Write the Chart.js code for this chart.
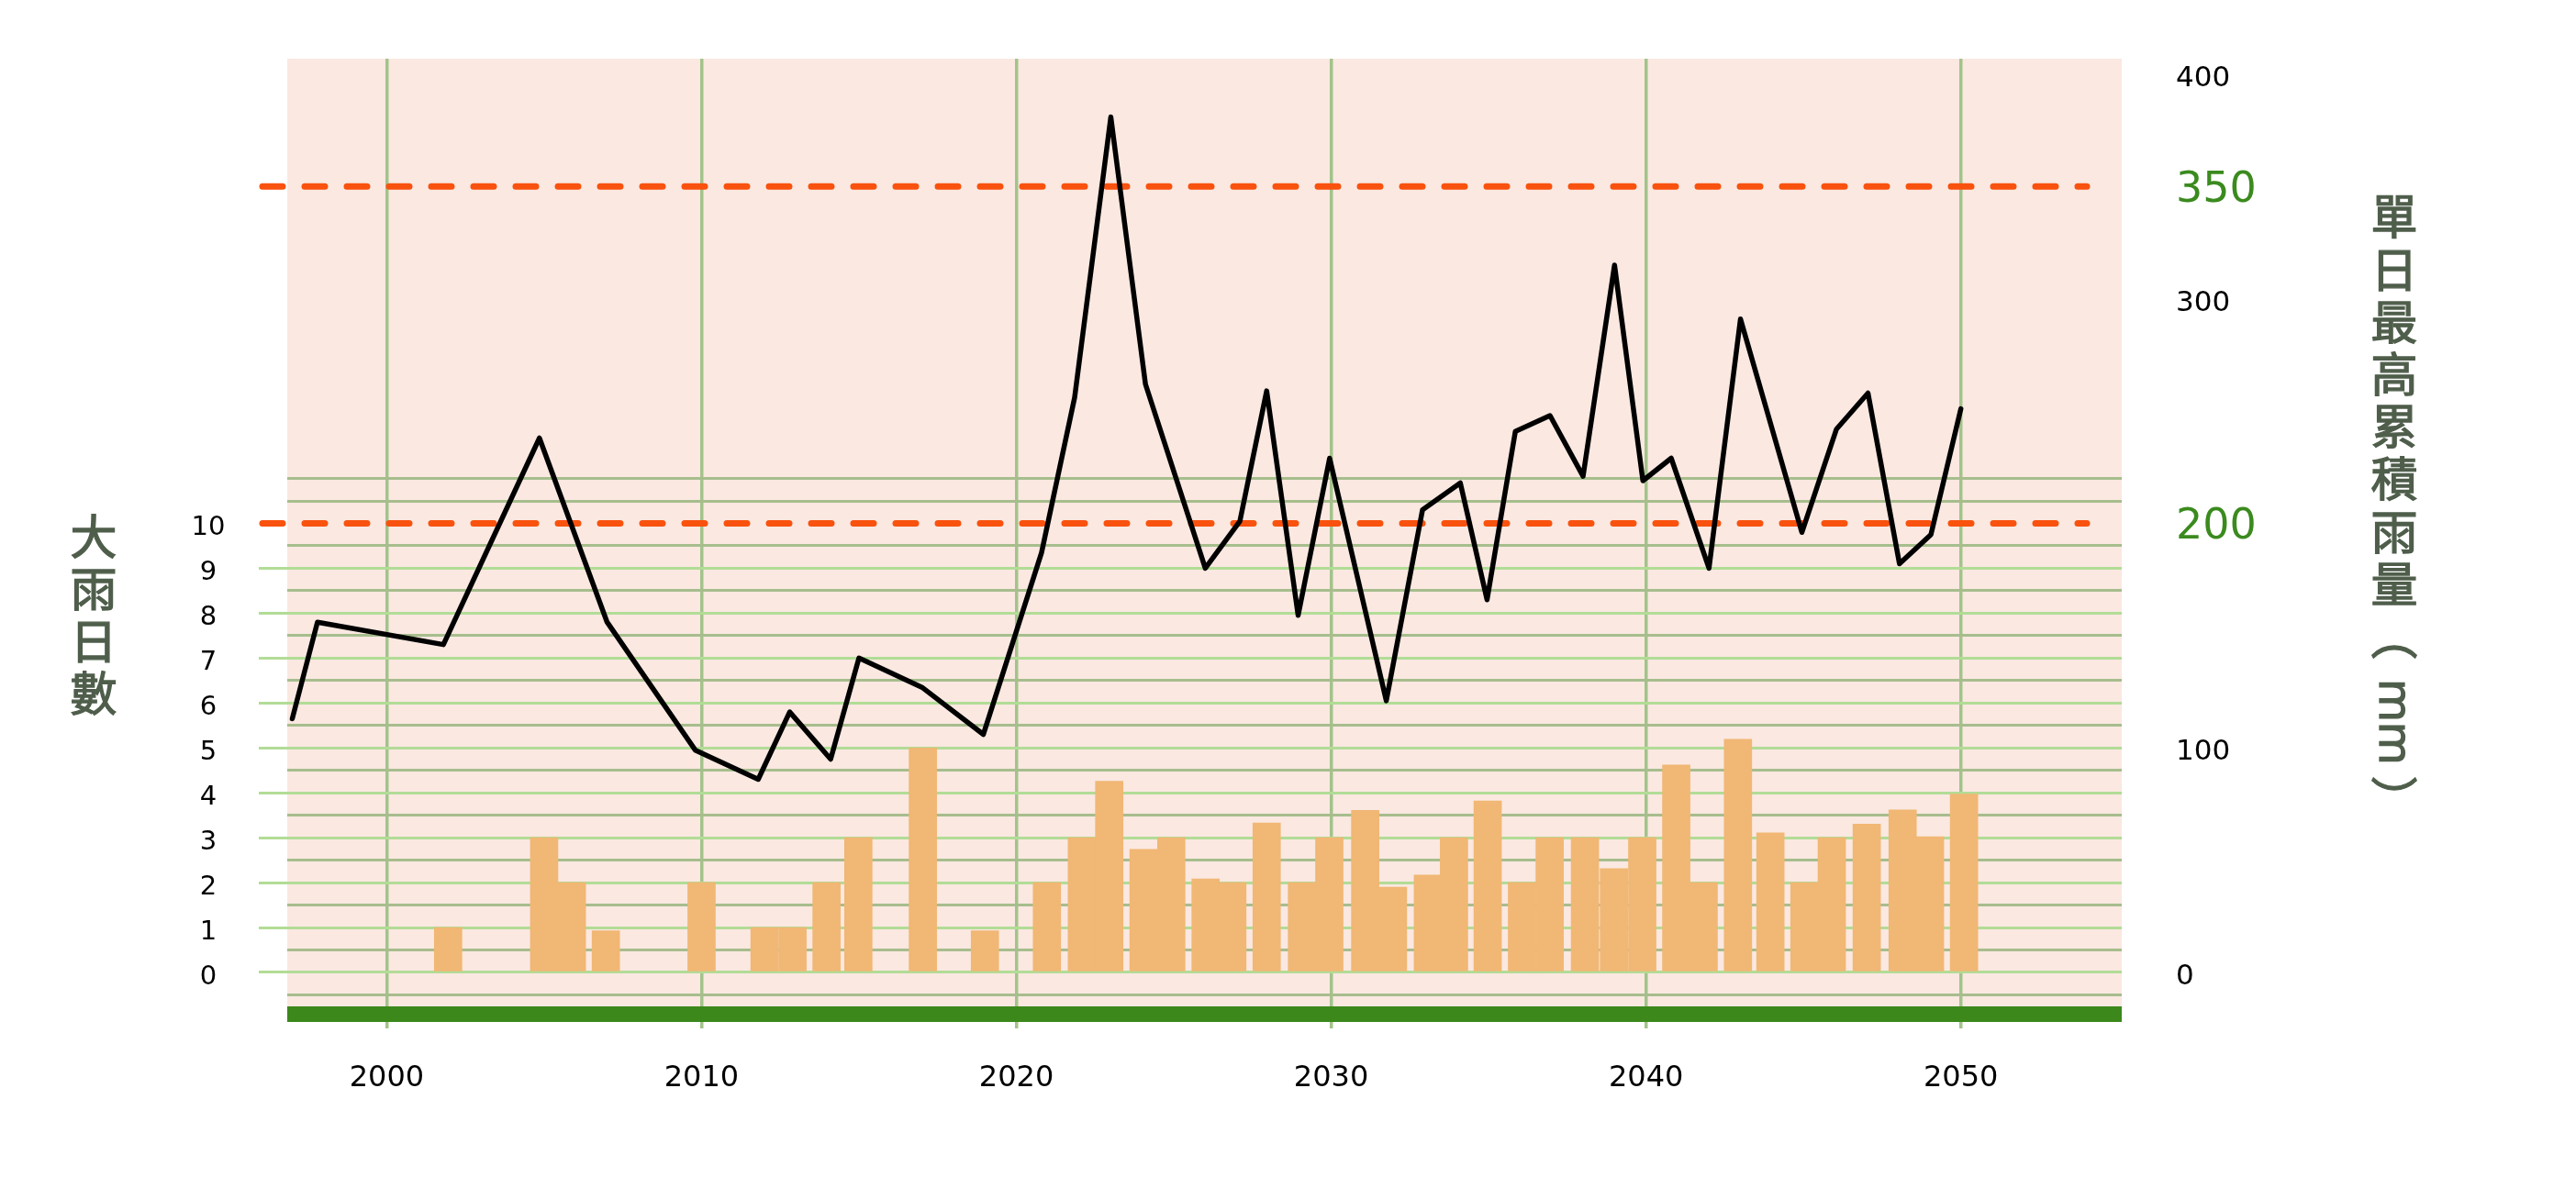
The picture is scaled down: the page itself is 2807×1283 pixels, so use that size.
<!DOCTYPE html>
<html>
<head>
<meta charset="utf-8">
<script src="https://cdn.jsdelivr.net/npm/chart.js@4.4.0/dist/chart.umd.min.js"></script>
<style>
  body { margin: 0; background: #fff; }
  #wrap { width: 2807px; height: 1283px; }
</style>
</head>
<body>
<div id="wrap"><canvas id="grafico" width="2807" height="1283"></canvas></div>
<script>
// 單日最高累積雨量 (mm), right axis
const rainYears = [1997.0, 1997.8, 2001.8, 2004.85, 2007.0, 2009.8, 2011.8, 2012.8, 2014.1, 2015.0,
  2017.0, 2018.95, 2020.8, 2021.85, 2023.0, 2024.1, 2026.0, 2027.1, 2027.95, 2028.95,
  2029.95, 2031.75, 2032.9, 2034.1, 2034.95, 2035.85, 2036.95, 2038.0, 2039.0, 2039.9,
  2040.8, 2042.0, 2043.0, 2044.95, 2046.05, 2047.05, 2048.05, 2049.05, 2050.0];
const maxRain = [113, 156, 146, 238, 156, 99, 86, 116, 95, 140,
  127, 106, 187, 256, 381, 262, 180, 201, 259, 159,
  229, 121, 206, 218, 166, 241, 248, 221, 315, 219,
  229, 180, 291, 196, 242, 258, 182, 195, 251];

// 大雨日數, left axis
const dayYears = [2001.95, 2005.0, 2005.88, 2006.96, 2010.0, 2012.0, 2012.89, 2013.97, 2014.98, 2017.03,
  2019.0, 2020.97, 2022.08, 2022.95, 2024.04, 2024.92, 2026.01, 2026.86, 2027.95, 2029.07,
  2029.94, 2031.08, 2031.96, 2033.07, 2033.9, 2034.97, 2036.06, 2036.94, 2038.06, 2038.98,
  2039.88, 2040.96, 2041.83, 2042.92, 2043.95, 2045.03, 2045.9, 2047.01, 2048.15, 2049.02, 2050.1];
const heavyDays = [1, 3, 2, 0.93, 2, 1, 1, 2, 3, 5,
  0.93, 2, 3, 4.26, 2.74, 3, 2.08, 2, 3.33, 2,
  3, 3.61, 1.9, 2.17, 3, 3.82, 2, 3, 3, 2.31,
  3, 4.62, 2, 5.19, 3.11, 2, 3, 3.3, 3.62, 3.02, 3.97];

const yearTicks = [2000, 2010, 2020, 2030, 2040, 2050];
const dayTicks = [0, 1, 2, 3, 4, 5, 6, 7, 8, 9, 10];
const rainTicks = [0, 100, 200, 300, 350, 400];
const thresholds = [200, 350];   // dashed lines, also the green labels

const leftTitle = '大雨日數';
const rightTitle = '單日最高累積雨量';
const unit = 'mm';

// left axis grid: whole days light green, half steps darker
const gridValues = [];
for (let v = -0.5; v <= 11; v += 0.5) gridValues.push(v);

function gridColor(v) {
  if (v === 10) return 'rgba(0,0,0,0)';
  if (Number.isInteger(v) && v >= 0 && v <= 9) return '#b2dc96';
  return '#a7bd8d';
}

// fixed axis sizes, no label overhang so the plot box sits where it should
function fixSize(s, w, h) {
  if (w) s.width = w;
  if (h) s.height = h;
  s.paddingTop = 0;
  s.paddingBottom = 0;
  s.paddingLeft = 0;
  s.paddingRight = 0;
}

// text a little heavier than regular weight
function heavyText(ctx, t, x, y) {
  ctx.fillText(t, x, y);
  ctx.strokeText(t, x, y);
}

const decor = {
  id: 'decor',
  beforeDraw(chart) {
    const {ctx, chartArea: a} = chart;
    ctx.save();
    ctx.fillStyle = '#fae8e1';
    ctx.fillRect(a.left, a.top, a.right - a.left, a.bottom - a.top);
    ctx.restore();
  },
  beforeDatasetsDraw(chart) {
    const {ctx, chartArea: a} = chart;
    const y2 = chart.scales.y2;
    ctx.save();
    // green ground band
    ctx.fillStyle = '#3c881b';
    ctx.fillRect(a.left, a.bottom - 16, a.right - a.left, 17);
    // dashed threshold lines
    ctx.strokeStyle = '#f9520e';
    ctx.lineWidth = 7;
    ctx.lineCap = 'round';
    ctx.setLineDash([22, 24]);
    thresholds.forEach(function (t) {
      const y = y2.getPixelForValue(t);
      ctx.beginPath();
      ctx.moveTo(a.left - 27, y);
      ctx.lineTo(a.right - 38, y);
      ctx.stroke();
    });
    ctx.restore();
  },
  afterDraw(chart) {
    const ctx = chart.ctx;
    ctx.save();
    ctx.fillStyle = '#4f5e4b';
    ctx.strokeStyle = '#4f5e4b';
    ctx.lineWidth = 1.3;
    ctx.font = '51px "Noto Sans CJK TC"';
    ctx.textAlign = 'center';
    ctx.textBaseline = 'middle';
    leftTitle.split('').forEach(function (ch, i) {
      heavyText(ctx, ch, 102, 585 + i * 57);
    });
    rightTitle.split('').forEach(function (ch, i) {
      heavyText(ctx, ch, 2609, 236 + i * 57.2);
    });
    heavyText(ctx, '\uFE35', 2609, 694);
    heavyText(ctx, '\uFE36', 2609, 872);
    // unit turned sideways like vertical typesetting
    ctx.translate(2593, 787);
    ctx.rotate(Math.PI / 2);
    ctx.font = '50px "Noto Sans"';
    ctx.textBaseline = 'alphabetic';
    heavyText(ctx, unit, 0, 0);
    ctx.restore();
  }
};

Chart.defaults.font.family = 'DejaVu Sans';

new Chart(document.getElementById('grafico'), {
  type: 'bar',
  data: {
    datasets: [
      {
        type: 'line',
        data: rainYears.map((x, i) => ({x: x, y: maxRain[i]})),
        yAxisID: 'y2',
        borderColor: '#000',
        borderWidth: 5.5,
        pointRadius: 0,
        tension: 0,
        borderJoinStyle: 'round',
        borderCapStyle: 'round',
        order: 0
      },
      {
        type: 'bar',
        data: dayYears.map((x, i) => ({x: x, y: heavyDays[i]})),
        yAxisID: 'y',
        backgroundColor: '#f1b774',
        barThickness: 30,
        grouped: false,
        order: 1
      }
    ]
  },
  options: {
    responsive: false,
    animation: false,
    devicePixelRatio: 1,
    layout: { padding: { top: 64, left: 0, right: 0, bottom: 0 } },
    plugins: { legend: { display: false }, tooltip: { enabled: false } },
    scales: {
      x: {
        type: 'linear',
        min: 1996.84,
        max: 2055.11,
        offset: false,
        afterBuildTicks: s => { s.ticks = yearTicks.map(v => ({value: v})); },
        afterFit: s => fixSize(s, 0, 170),
        grid: { color: '#a3c38b', lineWidth: 3.5, tickLength: 8, offset: false },
        border: { display: false },
        ticks: {
          autoSkip: false, maxRotation: 0, padding: 35, color: '#000',
          font: { size: 32 },
          callback: v => String(v)
        }
      },
      y: {
        position: 'left',
        min: -1.083,
        max: 20.347,
        afterBuildTicks: s => { s.ticks = gridValues.map(v => ({value: v})); },
        afterFit: s => fixSize(s, 313, 0),
        grid: {
          color: c => c.tick ? gridColor(c.tick.value) : 'rgba(0,0,0,0)',
          tickColor: c => (c.tick && dayTicks.includes(c.tick.value) && c.tick.value < 10) ? '#b2dc96' : 'rgba(0,0,0,0)',
          lineWidth: 3,
          tickLength: 31
        },
        border: { display: false },
        ticks: {
          autoSkip: false, crossAlign: 'center', padding: 36.5, labelOffset: 5, color: '#000',
          font: { size: 29 },
          callback: v => dayTicks.includes(v) ? String(v) : ''
        }
      },
      y2: {
        position: 'right',
        min: -21.66,
        max: 406.94,
        afterBuildTicks: s => { s.ticks = rainTicks.map(v => ({value: v})); },
        afterFit: s => fixSize(s, 495, 0),
        grid: { display: false, drawTicks: false, drawOnChartArea: false },
        border: { display: false },
        ticks: {
          autoSkip: false, padding: 59, labelOffset: 5,
          color: c => (c.tick && thresholds.includes(c.tick.value)) ? '#3b8a1e' : '#000',
          font: c => (c.tick && thresholds.includes(c.tick.value)) ? { size: 46 } : { size: 31 },
          callback: v => String(v)
        }
      }
    }
  },
  plugins: [decor]
});
</script>
</body>
</html>
